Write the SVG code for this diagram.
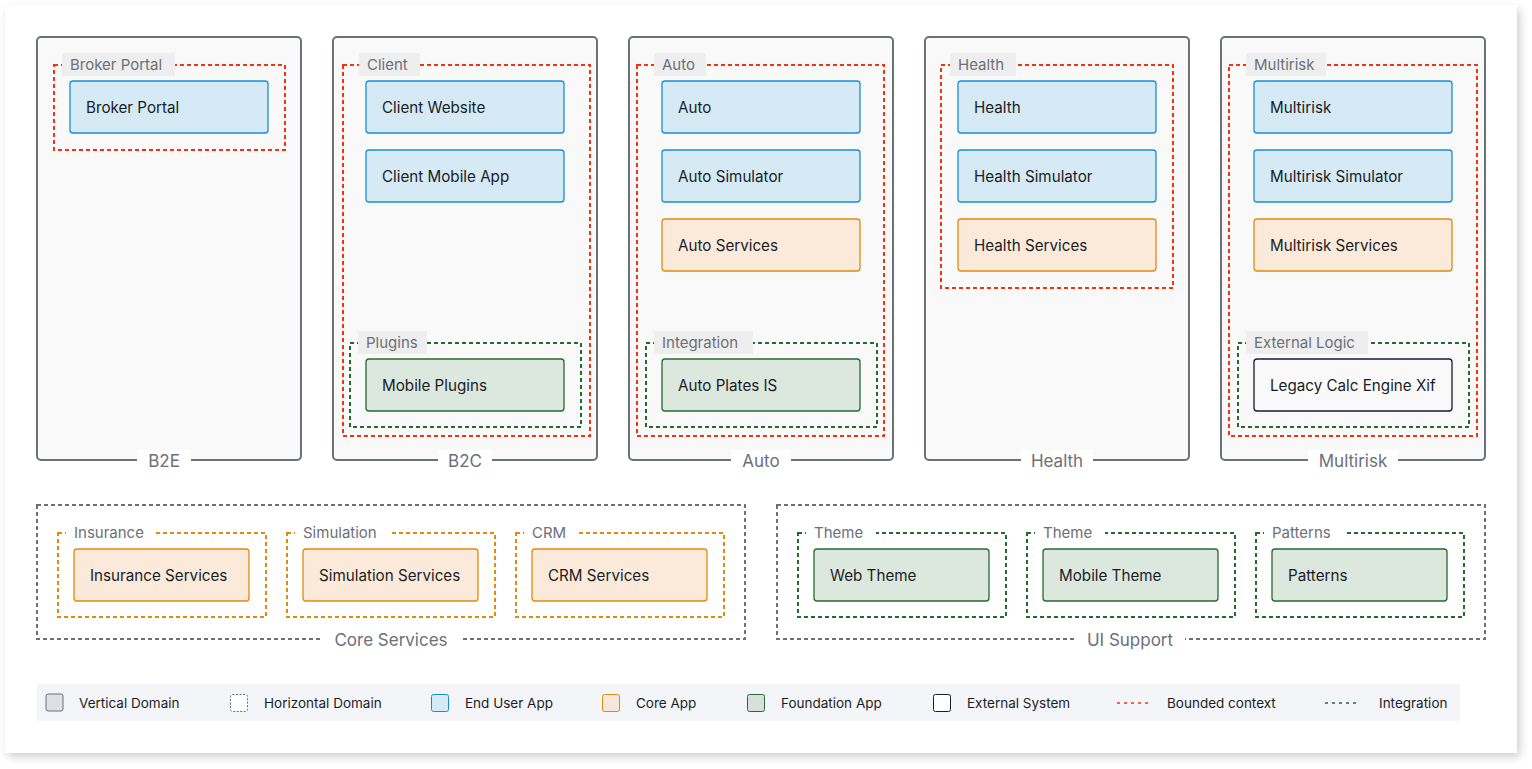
<svg xmlns="http://www.w3.org/2000/svg" width="1532" height="769" viewBox="0 0 1532 769">
<defs>
<filter id="sh" x="-5%" y="-5%" width="110%" height="110%">
<feDropShadow dx="3" dy="4" stdDeviation="4" flood-color="#000" flood-opacity="0.18"/>
</filter>
<style>
text{font-family:Inter,"DejaVu Sans",sans-serif;}
.vd{fill:#f9f9f9;stroke:#6b7079;stroke-width:2;}
.hd{fill:none;stroke:#6b7079;stroke-width:2;stroke-dasharray:4 3;}
.bc{fill:none;stroke:#f5320f;stroke-width:2;stroke-dasharray:4 3;}
.ig{fill:none;stroke:#236b30;stroke-width:2;stroke-dasharray:4 3;}
.co{fill:none;stroke:#e08a0e;stroke-width:2;stroke-dasharray:4 3;}
.eu{fill:#d6eaf5;stroke:#1a8fd0;stroke-width:1.3;}
.ca{fill:#fbeada;stroke:#e08a0e;stroke-width:1.3;}
.fa{fill:#dce7de;stroke:#236b30;stroke-width:1.3;}
.ex{fill:#f9f9f9;stroke:#1a1d26;stroke-width:1.3;}
.nt{font-size:15.2px;fill:#1a1d26;}
.gl{font-size:15px;fill:#6b7079;}
.glbg{fill:#eeeeee;}
.dl{font-size:17px;fill:#6b7079;text-anchor:middle;}
.lg{font-size:13.5px;fill:#1a1d26;}
</style>
</defs>
<rect x="0" y="0" width="1532" height="769" fill="#ffffff"/>
<rect x="5" y="5" width="1512" height="748" fill="#ffffff" filter="url(#sh)"/>

<g id="connectors"></g>

<!-- B2E -->
<g id="domain-b2e">
<rect class="vd" x="37" y="37" width="264" height="423" rx="4"/>
<rect x="137" y="450" width="54" height="20" fill="#ffffff"/>
<text class="dl" x="164" y="467">B2E</text>
</g>
<g id="bc-broker-portal">
<rect class="bc" x="54" y="65" width="231" height="85"/>
<rect class="glbg" x="62" y="53" width="113" height="23"/>
<text class="gl" x="70" y="70">Broker Portal</text>
</g>
<g id="node-broker-portal">
<rect class="eu" x="70" y="81" width="198" height="52" rx="3"/>
<text class="nt" x="86" y="113">Broker Portal</text>
</g>

<!-- B2C -->
<g id="domain-b2c">
<rect class="vd" x="333" y="37" width="264" height="423" rx="4"/>
<rect x="438" y="450" width="54" height="20" fill="#ffffff"/>
<text class="dl" x="465" y="467">B2C</text>
</g>
<g id="bc-client">
<rect class="bc" x="343" y="65" width="247" height="371"/>
<rect class="glbg" x="359" y="53" width="61" height="23"/>
<text class="gl" x="367" y="70">Client</text>
</g>
<g id="node-client-website">
<rect class="eu" x="366" y="81" width="198" height="52" rx="3"/>
<text class="nt" x="382" y="113">Client Website</text>
</g>
<g id="node-client-mobile-app">
<rect class="eu" x="366" y="150" width="198" height="52" rx="3"/>
<text class="nt" x="382" y="182">Client Mobile App</text>
</g>
<g id="int-plugins">
<rect class="ig" x="350" y="343" width="231" height="84"/>
<rect class="glbg" x="358" y="331" width="69" height="23"/>
<text class="gl" x="366" y="348">Plugins</text>
</g>
<g id="node-mobile-plugins">
<rect class="fa" x="366" y="359" width="198" height="52" rx="3"/>
<text class="nt" x="382" y="391">Mobile Plugins</text>
</g>

<!-- Auto -->
<g id="domain-auto">
<rect class="vd" x="629" y="37" width="264" height="423" rx="4"/>
<rect x="731" y="450" width="60" height="20" fill="#ffffff"/>
<text class="dl" x="761" y="467">Auto</text>
</g>
<g id="bc-auto">
<rect class="bc" x="637" y="65" width="247" height="371"/>
<rect class="glbg" x="654" y="53" width="52" height="23"/>
<text class="gl" x="662" y="70">Auto</text>
</g>
<g id="node-auto">
<rect class="eu" x="662" y="81" width="198" height="52" rx="3"/>
<text class="nt" x="678" y="113">Auto</text>
</g>
<g id="node-auto-simulator">
<rect class="eu" x="662" y="150" width="198" height="52" rx="3"/>
<text class="nt" x="678" y="182">Auto Simulator</text>
</g>
<g id="node-auto-services">
<rect class="ca" x="662" y="219" width="198" height="52" rx="3"/>
<text class="nt" x="678" y="251">Auto Services</text>
</g>
<g id="int-integration">
<rect class="ig" x="646" y="343" width="231" height="84"/>
<rect class="glbg" x="654" y="331" width="99" height="23"/>
<text class="gl" x="662" y="348">Integration</text>
</g>
<g id="node-auto-plates-is">
<rect class="fa" x="662" y="359" width="198" height="52" rx="3"/>
<text class="nt" x="678" y="391">Auto Plates IS</text>
</g>

<!-- Health -->
<g id="domain-health">
<rect class="vd" x="925" y="37" width="264" height="423" rx="4"/>
<rect x="1021" y="450" width="72" height="20" fill="#ffffff"/>
<text class="dl" x="1057" y="467">Health</text>
</g>
<g id="bc-health">
<rect class="bc" x="941" y="65" width="232" height="223"/>
<rect class="glbg" x="950" y="53" width="66" height="23"/>
<text class="gl" x="958" y="70">Health</text>
</g>
<g id="node-health">
<rect class="eu" x="958" y="81" width="198" height="52" rx="3"/>
<text class="nt" x="974" y="113">Health</text>
</g>
<g id="node-health-simulator">
<rect class="eu" x="958" y="150" width="198" height="52" rx="3"/>
<text class="nt" x="974" y="182">Health Simulator</text>
</g>
<g id="node-health-services">
<rect class="ca" x="958" y="219" width="198" height="52" rx="3"/>
<text class="nt" x="974" y="251">Health Services</text>
</g>

<!-- Multirisk -->
<g id="domain-multirisk">
<rect class="vd" x="1221" y="37" width="264" height="423" rx="4"/>
<rect x="1308" y="450" width="90" height="20" fill="#ffffff"/>
<text class="dl" x="1353" y="467">Multirisk</text>
</g>
<g id="bc-multirisk">
<rect class="bc" x="1229" y="65" width="248" height="371"/>
<rect class="glbg" x="1246" y="53" width="80" height="23"/>
<text class="gl" x="1254" y="70">Multirisk</text>
</g>
<g id="node-multirisk">
<rect class="eu" x="1254" y="81" width="198" height="52" rx="3"/>
<text class="nt" x="1270" y="113">Multirisk</text>
</g>
<g id="node-multirisk-simulator">
<rect class="eu" x="1254" y="150" width="198" height="52" rx="3"/>
<text class="nt" x="1270" y="182">Multirisk Simulator</text>
</g>
<g id="node-multirisk-services">
<rect class="ca" x="1254" y="219" width="198" height="52" rx="3"/>
<text class="nt" x="1270" y="251">Multirisk Services</text>
</g>
<g id="int-external-logic">
<rect class="ig" x="1238" y="343" width="231" height="84"/>
<rect class="glbg" x="1246" y="331" width="122" height="23"/>
<text class="gl" x="1254" y="348">External Logic</text>
</g>
<g id="node-legacy-calc-engine-xif">
<rect class="ex" x="1254" y="359" width="198" height="52" rx="3"/>
<text class="nt" x="1270" y="391">Legacy Calc Engine Xif</text>
</g>

<!-- Core Services -->
<g id="domain-core-services">
<rect class="hd" x="37" y="505" width="708" height="134"/>
<rect x="322" y="629" width="138" height="20" fill="#ffffff"/>
<text class="dl" x="391" y="646">Core Services</text>
</g>
<g id="ctx-insurance">
<rect class="co" x="58" y="533" width="208" height="84"/>
<rect x="66" y="522" width="90" height="22" fill="#ffffff"/>
<text class="gl" x="74" y="538">Insurance</text>
</g>
<g id="node-insurance-services">
<rect class="ca" x="74" y="549" width="175" height="52" rx="3"/>
<text class="nt" x="90" y="581">Insurance Services</text>
</g>
<g id="ctx-simulation">
<rect class="co" x="287" y="533" width="208" height="84"/>
<rect x="295" y="522" width="96" height="22" fill="#ffffff"/>
<text class="gl" x="303" y="538">Simulation</text>
</g>
<g id="node-simulation-services">
<rect class="ca" x="303" y="549" width="175" height="52" rx="3"/>
<text class="nt" x="319" y="581">Simulation Services</text>
</g>
<g id="ctx-crm">
<rect class="co" x="516" y="533" width="208" height="84"/>
<rect x="524" y="522" width="52" height="22" fill="#ffffff"/>
<text class="gl" x="532" y="538">CRM</text>
</g>
<g id="node-crm-services">
<rect class="ca" x="532" y="549" width="175" height="52" rx="3"/>
<text class="nt" x="548" y="581">CRM Services</text>
</g>

<!-- UI Support -->
<g id="domain-ui-support">
<rect class="hd" x="777" y="505" width="708" height="134"/>
<rect x="1075" y="629" width="110" height="20" fill="#ffffff"/>
<text class="dl" x="1130" y="646">UI Support</text>
</g>
<g id="int-theme-web">
<rect class="ig" x="798" y="533" width="208" height="84"/>
<rect x="806" y="522" width="70" height="22" fill="#ffffff"/>
<text class="gl" x="814" y="538">Theme</text>
</g>
<g id="node-web-theme">
<rect class="fa" x="814" y="549" width="175" height="52" rx="3"/>
<text class="nt" x="830" y="581">Web Theme</text>
</g>
<g id="int-theme-mobile">
<rect class="ig" x="1027" y="533" width="208" height="84"/>
<rect x="1035" y="522" width="70" height="22" fill="#ffffff"/>
<text class="gl" x="1043" y="538">Theme</text>
</g>
<g id="node-mobile-theme">
<rect class="fa" x="1043" y="549" width="175" height="52" rx="3"/>
<text class="nt" x="1059" y="581">Mobile Theme</text>
</g>
<g id="int-patterns">
<rect class="ig" x="1256" y="533" width="208" height="84"/>
<rect x="1264" y="522" width="82" height="22" fill="#ffffff"/>
<text class="gl" x="1272" y="538">Patterns</text>
</g>
<g id="node-patterns">
<rect class="fa" x="1272" y="549" width="175" height="52" rx="3"/>
<text class="nt" x="1288" y="581">Patterns</text>
</g>

<!-- Legend -->
<g id="legend">
<rect x="37" y="684" width="1423" height="37" fill="#f4f5f8"/>
<rect x="46" y="694" width="17" height="17" rx="2" fill="#dfe0e4" stroke="#6b7079" stroke-width="1"/>
<text class="lg" x="79" y="708">Vertical Domain</text>
<rect x="230.5" y="694.5" width="17" height="17" rx="2" fill="#ffffff" stroke="#6b7079" stroke-width="1" stroke-dasharray="2 1.5"/>
<text class="lg" x="264" y="708">Horizontal Domain</text>
<rect x="431.5" y="694.5" width="17" height="17" rx="2" fill="#d6eaf5" stroke="#1a8fd0" stroke-width="1"/>
<text class="lg" x="465" y="708">End User App</text>
<rect x="602.5" y="694.5" width="17" height="17" rx="2" fill="#f4e7db" stroke="#e08a0e" stroke-width="1"/>
<text class="lg" x="636" y="708">Core App</text>
<rect x="747.5" y="694.5" width="17" height="17" rx="2" fill="#d6e1da" stroke="#236b30" stroke-width="1"/>
<text class="lg" x="781" y="708">Foundation App</text>
<rect x="933.5" y="694.5" width="17" height="17" rx="2" fill="#ffffff" stroke="#1a1d26" stroke-width="1"/>
<text class="lg" x="967" y="708">External System</text>
<line x1="1117" y1="703" x2="1150" y2="703" stroke="#f5320f" stroke-width="1.5" stroke-dasharray="3 4"/>
<text class="lg" x="1167" y="708">Bounded context</text>
<line x1="1325" y1="703" x2="1358" y2="703" stroke="#236b30" stroke-width="1.5" stroke-dasharray="3 4"/>
<text class="lg" x="1379" y="708">Integration</text>
</g>
</svg>
